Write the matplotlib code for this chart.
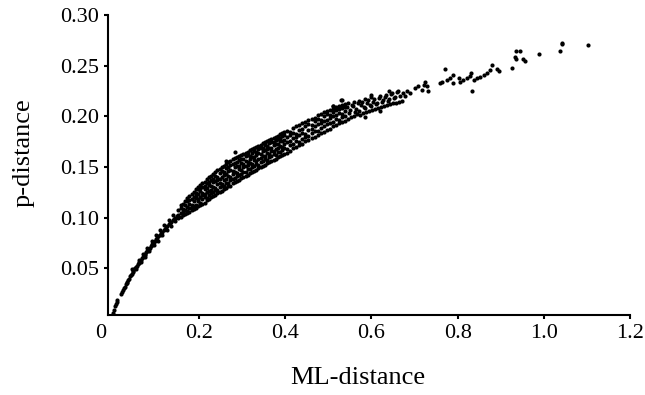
import numpy as np
import matplotlib
matplotlib.use("Agg")
import matplotlib.pyplot as plt

# near the origin: a thin line of points
near_ml = [0.000, 0.002, 0.005, 0.007, 0.009, 0.011, 0.019, 0.021, 0.023, 0.026,
           0.028, 0.030, 0.032, 0.034, 0.036, 0.038, 0.040, 0.042, 0.044, 0.046,
           0.048, 0.050, 0.052, 0.054, 0.056, 0.058, 0.060, 0.062, 0.064, 0.066,
           0.068, 0.070, 0.072, 0.074, 0.076, 0.078, 0.080, 0.082, 0.084, 0.086,
           0.088, 0.090, 0.092, 0.094, 0.096, 0.098, 0.100, 0.103, 0.106, 0.109,
           0.112, 0.115, 0.118, 0.121, 0.124, 0.127, 0.130, 0.133, 0.136, 0.139,
           0.142, 0.145, 0.148,
           0.055, 0.065, 0.075, 0.085, 0.095, 0.105, 0.115, 0.125, 0.135, 0.145,
           0.045, 0.060, 0.070, 0.080, 0.090, 0.100, 0.110, 0.120, 0.130, 0.140]
near_p = [0.006, 0.009, 0.013, 0.015, 0.017, 0.019, 0.025, 0.027, 0.029, 0.031,
          0.032, 0.035, 0.036, 0.037, 0.039, 0.040, 0.042, 0.043, 0.044, 0.046,
          0.047, 0.049, 0.050, 0.051, 0.052, 0.054, 0.055, 0.056, 0.057, 0.058,
          0.060, 0.061, 0.062, 0.063, 0.064, 0.066, 0.067, 0.068, 0.069, 0.070,
          0.072, 0.073, 0.074, 0.075, 0.076, 0.077, 0.079, 0.080, 0.082, 0.083,
          0.085, 0.086, 0.088, 0.089, 0.091, 0.092, 0.094, 0.095, 0.096, 0.098,
          0.099, 0.100, 0.102,
          0.049, 0.056, 0.061, 0.067, 0.073, 0.077, 0.083, 0.088, 0.092, 0.097,
          0.049, 0.058, 0.064, 0.070, 0.077, 0.083, 0.088, 0.093, 0.098, 0.103]

# the dense band, one column of p-distances per ML-distance
band_ml = [0.152, 0.158, 0.163, 0.168, 0.173, 0.178, 0.183, 0.188, 0.193, 0.198,
           0.203, 0.208, 0.213, 0.218, 0.223, 0.228, 0.233, 0.238, 0.243, 0.248,
           0.253, 0.258, 0.263, 0.268, 0.273, 0.278, 0.283, 0.288, 0.293, 0.298,
           0.303, 0.308, 0.313, 0.318, 0.323, 0.328, 0.333, 0.338, 0.343, 0.348,
           0.353, 0.358, 0.363, 0.368, 0.373, 0.378, 0.383, 0.388, 0.393, 0.398,
           0.405, 0.412, 0.419, 0.426, 0.433, 0.440, 0.447, 0.454, 0.461, 0.468,
           0.475, 0.482, 0.489, 0.496, 0.503, 0.510, 0.517, 0.524, 0.531, 0.538]
band_p = [
    [.100, .103, .108], [.101, .105, .110, .113], [.103, .106, .109, .114],
    [.104, .108, .113, .116], [.105, .107, .111, .116, .119],
    [.106, .110, .114, .117, .121], [.108, .111, .113, .118, .123],
    [.109, .112, .116, .120, .125], [.110, .113, .119, .122, .124, .128],
    [.112, .116, .118, .123, .128, .130], [.113, .115, .120, .126, .129, .132],
    [.114, .118, .122, .124, .130, .134], [.115, .120, .123, .128, .131, .135],
    [.117, .119, .125, .129, .134, .138], [.118, .122, .126, .132, .135, .140],
    [.120, .124, .127, .131, .137, .141], [.121, .125, .130, .135, .138, .143],
    [.122, .127, .129, .136, .141, .145], [.124, .127, .133, .137, .140, .147],
    [.125, .130, .134, .138, .144, .148], [.126, .131, .133, .140, .146, .150],
    [.128, .131, .137, .142, .145, .151], [.129, .134, .138, .143, .149, .153, .156],
    [.131, .134, .141, .146, .150, .155], [.131, .137, .140, .147, .152, .156],
    [.134, .138, .143, .146, .153, .158], [.135, .139, .145, .150, .154, .159, .165],
    [.136, .141, .144, .151, .155, .160], [.137, .142, .148, .151, .157, .161],
    [.139, .143, .147, .154, .158, .162], [.140, .145, .150, .153, .158, .163],
    [.141, .145, .151, .156, .161, .164], [.142, .148, .152, .155, .162, .165],
    [.144, .148, .154, .158, .161, .167], [.145, .150, .153, .160, .164, .168],
    [.146, .151, .157, .160, .166, .169], [.147, .153, .156, .162, .165, .170],
    [.149, .152, .158, .164, .168, .171], [.150, .155, .159, .163, .169, .172],
    [.151, .156, .161, .166, .169, .174], [.152, .158, .161, .167, .172, .175],
    [.154, .157, .164, .168, .171, .176], [.155, .160, .163, .169, .174, .177],
    [.156, .161, .166, .169, .175, .178], [.157, .163, .166, .172, .175, .179],
    [.158, .162, .168, .173, .177, .180], [.160, .165, .169, .173, .178, .181],
    [.161, .165, .171, .176, .179, .183], [.162, .167, .170, .176, .181, .184],
    [.163, .169, .173, .177, .182, .185], [.164, .168, .175, .180, .186],
    [.166, .172, .176, .182, .185], [.169, .173, .179, .184, .189],
    [.170, .176, .180, .183, .190], [.172, .175, .182, .187, .191],
    [.173, .178, .184, .188, .193], [.176, .180, .183, .190, .194],
    [.177, .181, .187, .192, .196], [.179, .184, .188, .191, .197],
    [.180, .186, .190, .195, .198], [.182, .186, .192, .197, .201],
    [.184, .189, .193, .196, .202], [.185, .190, .195, .200, .204],
    [.187, .192, .196, .202, .205], [.188, .193, .198, .201, .206],
    [.190, .194, .200, .204, .207, .210], [.191, .197, .201, .206, .209],
    [.193, .196, .203, .207, .210], [.194, .199, .202, .208, .211, .216],
    [.195, .200, .205, .209, .212],
]

# thinner stretch of the band
mid_ml = [0.545, 0.547, 0.544, 0.546, 0.552, 0.550, 0.554, 0.559, 0.561, 0.557,
          0.560, 0.566, 0.564, 0.568, 0.573, 0.571, 0.575, 0.572, 0.580, 0.582,
          0.578, 0.587, 0.585, 0.589, 0.586, 0.594, 0.596, 0.592, 0.601, 0.599,
          0.603, 0.600, 0.608, 0.610, 0.606, 0.615, 0.613, 0.617, 0.622, 0.624,
          0.620, 0.629, 0.627, 0.631, 0.636, 0.638, 0.634, 0.643, 0.641, 0.645,
          0.650, 0.652, 0.648, 0.657, 0.655, 0.659, 0.664, 0.666, 0.662, 0.600,
          0.585, 0.640, 0.620]
mid_p = [0.197, 0.203, 0.209, 0.213, 0.199, 0.206, 0.211, 0.200, 0.204, 0.210,
         0.214, 0.202, 0.207, 0.213, 0.201, 0.205, 0.211, 0.215, 0.203, 0.209,
         0.214, 0.204, 0.208, 0.213, 0.217, 0.205, 0.211, 0.216, 0.206, 0.210,
         0.214, 0.219, 0.207, 0.212, 0.217, 0.208, 0.213, 0.218, 0.209, 0.214,
         0.220, 0.210, 0.216, 0.219, 0.211, 0.215, 0.221, 0.212, 0.217, 0.222,
         0.213, 0.218, 0.223, 0.213, 0.219, 0.224, 0.214, 0.220, 0.225, 0.221,
         0.199, 0.225, 0.205]

# sparse upper end of the cloud
tail_ml = [0.671, 0.674, 0.678, 0.682, 0.690, 0.701, 0.709, 0.717, 0.721, 0.725,
           0.729, 0.732, 0.759, 0.763, 0.771, 0.775, 0.783, 0.790, 0.790, 0.802,
           0.806, 0.813, 0.821, 0.829, 0.831, 0.833, 0.837, 0.845, 0.852, 0.860,
           0.868, 0.875, 0.879, 0.891, 0.896, 0.926, 0.933, 0.935, 0.936, 0.945,
           0.951, 0.956, 0.989, 1.038, 1.041, 1.043, 1.103, 0.529, 0.511]
tail_p = [0.215, 0.223, 0.220, 0.225, 0.223, 0.228, 0.230, 0.226, 0.231, 0.234,
          0.230, 0.225, 0.233, 0.234, 0.247, 0.236, 0.238, 0.241, 0.233, 0.238,
          0.234, 0.236, 0.238, 0.240, 0.243, 0.225, 0.236, 0.238, 0.239, 0.241,
          0.243, 0.246, 0.251, 0.247, 0.245, 0.248, 0.259, 0.257, 0.264, 0.264,
          0.257, 0.255, 0.262, 0.264, 0.271, 0.272, 0.270, 0.216, 0.210]

x_ticks = [0.2, 0.4, 0.6, 0.8, 1.0, 1.2]
x_labels = ["0.2", "0.4", "0.6", "0.8", "1.0", "1.2"]
y_ticks = [0.05, 0.10, 0.15, 0.20, 0.25, 0.30]
y_labels = ["0.05", "0.10", "0.15", "0.20", "0.25", "0.30"]

ml = list(near_ml) + list(mid_ml) + list(tail_ml)
p = list(near_p) + list(mid_p) + list(tail_p)
for xv, col in zip(band_ml, band_p):
    ml += [xv] * len(col)
    p += col

plt.rcParams['font.family'] = ['Liberation Serif', 'DejaVu Serif']

fig = plt.figure(figsize=(6.45, 3.95), dpi=100)
ax = fig.add_axes([0.1674, 0.2025, 0.8096, 0.7595])
ax.scatter(ml, p, s=9, c="black", linewidths=0)

ax.set_xlim(-0.011, 1.2)
ax.set_ylim(0.004, 0.30)
ax.set_xticks(x_ticks)
ax.set_xticklabels(x_labels)
ax.set_yticks(y_ticks)
ax.set_yticklabels(y_labels)
ax.tick_params(direction="out", length=3, width=1.5, labelsize=16, pad=3.5)
for side in ["top", "right"]:
    ax.spines[side].set_visible(False)
for side in ["left", "bottom"]:
    ax.spines[side].set_linewidth(1.5)

# origin label sits left of the corner, no tick
ax.annotate("0", xy=(-0.027, 0), xycoords=("data", "axes fraction"),
            xytext=(0, -6.5), textcoords="offset points",
            ha="center", va="top", fontsize=16)

ax.set_xlabel("ML-distance", fontsize=19)
ax.set_ylabel("p-distance", fontsize=19)
ax.xaxis.set_label_coords(0.479, -0.172)
ax.yaxis.set_label_coords(-0.140, 0.54)

fig.savefig("out.png", dpi=100)
